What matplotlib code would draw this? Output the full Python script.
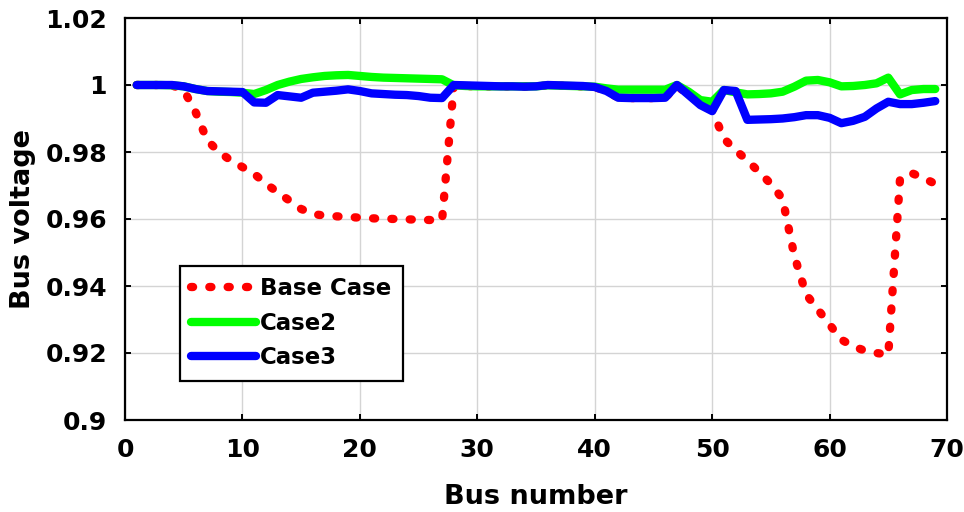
import numpy as np
import matplotlib
matplotlib.use("Agg")
import matplotlib.pyplot as plt

# Bus numbers of the 69-bus feeder
bus = list(range(1, 70))

# Bus voltage profiles (p.u.)
base_case = [
    1.0000, 1.0000, 1.0000, 0.9999, 0.9985, 0.9920, 0.9835, 0.9800, 0.9775, 0.9755,
    0.9735, 0.9705, 0.9680, 0.9655, 0.9630, 0.9615, 0.9610, 0.9608, 0.9606, 0.9604,
    0.9602, 0.9601, 0.9600, 0.9599, 0.9598, 0.9597, 0.9596, 0.9999, 0.9997, 0.9996,
    0.9996, 0.9996, 0.9996, 0.9995, 0.9996, 0.9999, 0.9998, 0.9997, 0.9996, 0.9994,
    0.9982, 0.9962, 0.9961, 0.9961, 0.9961, 0.9962, 0.9998, 0.9970, 0.9945, 0.9925,
    0.9840, 0.9805, 0.9775, 0.9740, 0.9705, 0.9660, 0.9490, 0.9375, 0.9330, 0.9285,
    0.9240, 0.9220, 0.9207, 0.9200, 0.9195, 0.9720, 0.9737, 0.9722, 0.9705,
]

case2 = [
    1.0000, 1.0000, 1.0000, 0.9999, 0.9996, 0.9988, 0.9982, 0.9980, 0.9979, 0.9977,
    0.9973, 0.9985, 1.0000, 1.0010, 1.0018, 1.0023, 1.0027, 1.0029, 1.0030, 1.0027,
    1.0024, 1.0022, 1.0021, 1.0020, 1.0019, 1.0018, 1.0017, 0.9999, 0.9997, 0.9996,
    0.9996, 0.9996, 0.9996, 0.9996, 0.9996, 0.9999, 0.9998, 0.9997, 0.9996, 0.9995,
    0.9990, 0.9986, 0.9986, 0.9986, 0.9986, 0.9986, 1.0000, 0.9980, 0.9955, 0.9950,
    0.9985, 0.9978, 0.9972, 0.9973, 0.9975, 0.9980, 0.9995, 1.0013, 1.0015, 1.0008,
    0.9996, 0.9997, 1.0000, 1.0005, 1.0022, 0.9972, 0.9985, 0.9988, 0.9988,
]

case3 = [
    1.0000, 1.0000, 1.0000, 1.0000, 0.9996, 0.9988, 0.9982, 0.9981, 0.9980, 0.9979,
    0.9948, 0.9947, 0.9970, 0.9966, 0.9962, 0.9977, 0.9980, 0.9983, 0.9987, 0.9982,
    0.9975, 0.9973, 0.9971, 0.9970, 0.9967, 0.9962, 0.9961, 1.0000, 0.9999, 0.9998,
    0.9997, 0.9996, 0.9996, 0.9995, 0.9996, 1.0000, 0.9999, 0.9998, 0.9997, 0.9994,
    0.9982, 0.9962, 0.9961, 0.9961, 0.9961, 0.9962, 1.0000, 0.9970, 0.9940, 0.9922,
    0.9985, 0.9982, 0.9896, 0.9897, 0.9898, 0.9900, 0.9904, 0.9910, 0.9910, 0.9902,
    0.9886, 0.9893, 0.9905, 0.9930, 0.9950, 0.9943, 0.9943, 0.9947, 0.9952,
]

x_ticks = [0, 10, 20, 30, 40, 50, 60, 70]
y_ticks = [0.9, 0.92, 0.94, 0.96, 0.98, 1.0, 1.02]
y_tick_labels = ["0.9", "0.92", "0.94", "0.96", "0.98", "1", "1.02"]

plt.rcParams["font.family"] = ["DejaVu Sans"]
plt.rcParams["font.weight"] = "bold"

fig = plt.figure(figsize=(9.64, 5.12), dpi=100)
ax = fig.add_axes([125 / 964, 1 - 420 / 512, 822 / 964, 402 / 512])

lw = 6
ax.plot(bus, base_case, color="#ff0000", lw=lw, dashes=(0.25, 1.95),
        dash_capstyle="round", solid_joinstyle="round", label="Base Case", zorder=3)
ax.plot(bus, case2, color="#00ff00", lw=lw, solid_capstyle="round",
        solid_joinstyle="round", label="Case2", zorder=4)
ax.plot(bus, case3, color="#0000ff", lw=lw, solid_capstyle="round",
        solid_joinstyle="round", label="Case3", zorder=5)

ax.set_xlim(0, 70)
ax.set_ylim(0.9, 1.02)
ax.set_xticks(x_ticks)
ax.set_yticks(y_ticks)
ax.set_yticklabels(y_tick_labels)

ax.grid(True, color="#d4d4d4", lw=1.0, ls="-")
ax.set_axisbelow(True)

for sp in ax.spines.values():
    sp.set_linewidth(1.6)
    sp.set_color("black")

ax.tick_params(axis="both", direction="in", length=4, width=1.4,
               top=True, right=True, labelsize=18)
ax.tick_params(axis="x", pad=13)
ax.tick_params(axis="y", pad=13)
for lab in ax.get_xticklabels() + ax.get_yticklabels():
    lab.set_fontweight("bold")

ax.set_xlabel("Bus number", fontsize=19.5, fontweight="bold")
ax.set_ylabel("Bus voltage", fontsize=19.5, fontweight="bold")
ax.xaxis.set_label_coords(0.5, -0.16)
ax.yaxis.set_label_coords(-0.108, 0.5)

leg = ax.legend(loc="upper left", bbox_to_anchor=((180 - 125) / 822, (420 - 266) / 402),
                borderaxespad=0, fancybox=False, framealpha=1, edgecolor="black",
                prop={"size": 16.5, "weight": "bold"}, handlelength=2.8,
                handletextpad=0.2, labelspacing=0.5, borderpad=0.5)
leg.get_frame().set_linewidth(1.6)

fig.savefig("out.png", dpi=100, facecolor="white")
